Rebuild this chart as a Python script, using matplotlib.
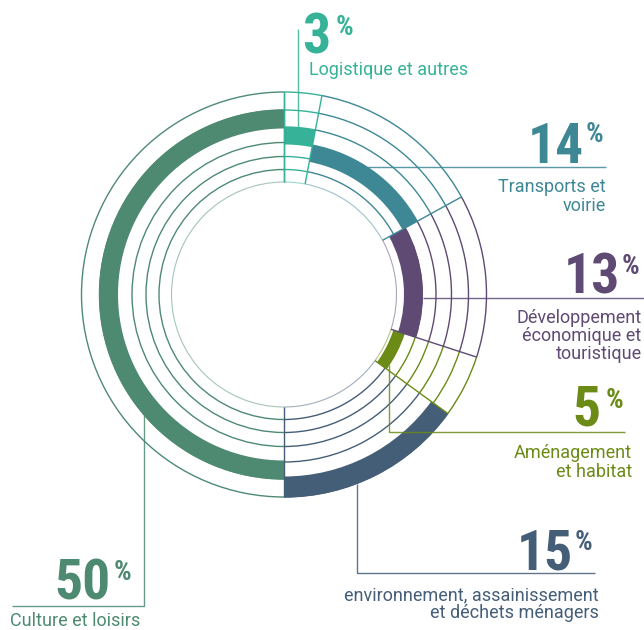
import numpy as np
import matplotlib
matplotlib.use("Agg")
import matplotlib.pyplot as plt
from matplotlib.patches import Wedge, Arc
from matplotlib import font_manager

# ---------------- data ----------------
categories = ["Logistique et autres", "Transports et voirie",
              "Développement économique et touristique", "Aménagement et habitat",
              "environnement, assainissement et déchets ménagers", "Culture et loisirs"]
values = [3, 14, 13, 5, 15, 50]
value_labels = ["3", "14", "13", "5", "15", "50"]
label_lines = [["Logistique et autres"],
               ["Transports et", "voirie"],
               ["Développement", "économique et", "touristique"],
               ["Aménagement", "et habitat"],
               ["environnement, assainissement", "et déchets ménagers"],
               ["Culture et loisirs"]]
colors = ["#35B298", "#3E8896", "#5E4A72", "#6B8A16", "#455E78", "#4E8A72"]

# ---------------- layout ----------------
W, H = 644, 630
CX, CY = 284, 294.5
RING_R = [112.5, 125, 138, 152, 167.5, 184.5, 202.5]
BANDS = [(150, 167.5), (135, 152), (120, 139), (115, 127), (182, 203), (166, 185)]
LEADERS = [
    ("vtop", 298, [(298, 29)]),
    ("hright", 166.7, [(606, 166.7)]),
    ("hright", 297.7, [(644, 297.7)]),
    ("vbot", 389.5, [(389.5, 432.4), (625, 432.4)]),
    ("vbot", 356.6, [(356.6, 573.2), (595, 573.2)]),
    ("vbot", 144, [(144, 605.7), (11.7, 605.7)]),
]
NUM_POS = [(330, 54), (584, 163), (620, 293), (601, 426), (573, 569), (111, 599)]
PCT_POS = [(336, 35), (586, 142), (622, 274), (606, 408), (575, 550), (114, 580)]
DESC = [("left", 309, [75]), ("right", 606, [192, 211]), ("right", 641.5, [323, 341, 359]),
        ("right", 632, [458, 477]), ("right", 599, [600, 618]), ("left", 10, [626])]


def pick_font(cands):
    for c in cands:
        try:
            font_manager.findfont(font_manager.FontProperties(family=c), fallback_to_default=False)
            return c
        except Exception:
            pass
    return "DejaVu Sans"


num_font = pick_font(["Liberation Sans Narrow", "Roboto Condensed", "DejaVu Sans"])
txt_font = pick_font(["Roboto", "Lato", "DejaVu Sans"])

fig = plt.figure(figsize=(W / 100, H / 100), dpi=100)
ax = fig.add_axes([0, 0, 1, 1])
ax.set_xlim(0, W)
ax.set_ylim(H, 0)
ax.axis("off")

total = float(sum(values))
cum = np.concatenate([[0], np.cumsum(values)]) / total * 360.0
starts = cum[:-1] - 90
ends = cum[1:] - 90

# ring lines per sector
for i in range(len(values)):
    for k, r in enumerate(RING_R):
        if k == 0:
            ax.add_patch(Arc((CX, CY), 2 * r, 2 * r, theta1=starts[i], theta2=ends[i],
                             color=colors[i], lw=0.8, alpha=0.5))
        else:
            ax.add_patch(Arc((CX, CY), 2 * r, 2 * r, theta1=starts[i], theta2=ends[i],
                             color=colors[i], lw=1.0))


def radial(theta, col):
    t = np.deg2rad(theta)
    ax.plot([CX + RING_R[0] * np.cos(t), CX + RING_R[-1] * np.cos(t)],
            [CY + RING_R[0] * np.sin(t), CY + RING_R[-1] * np.sin(t)],
            color=col, lw=1.0, solid_capstyle="butt")


for i in range(len(values)):
    radial(ends[i], colors[i])
radial(starts[0], colors[0])

# bands
for i in range(len(values)):
    rin, rout = BANDS[i]
    ax.add_patch(Wedge((CX, CY), rout, starts[i], ends[i], width=rout - rin,
                       facecolor=colors[i], edgecolor="none"))

# leaders
for i, (kind, fixed, pts) in enumerate(LEADERS):
    rout = BANDS[i][1]
    if kind == "vtop":
        x0 = fixed
        y0 = CY - np.sqrt(rout ** 2 - (x0 - CX) ** 2)
    elif kind == "vbot":
        x0 = fixed
        y0 = CY + np.sqrt(rout ** 2 - (x0 - CX) ** 2)
    else:
        y0 = fixed
        x0 = CX + np.sqrt(rout ** 2 - (y0 - CY) ** 2)
    xs = [x0] + [p[0] for p in pts]
    ys = [y0] + [p[1] for p in pts]
    ax.plot(xs, ys, color=colors[i], lw=1.0, alpha=0.85, solid_capstyle="butt")

# numbers and labels
for i in range(len(values)):
    nx, ny = NUM_POS[i]
    ax.text(nx, ny, value_labels[i], ha="right", va="baseline", fontsize=40,
            fontweight="bold", family=num_font, color=colors[i])
    px, py = PCT_POS[i]
    ax.text(px, py, "%", ha="left", va="baseline", fontsize=20,
            fontweight="bold", family=num_font, color=colors[i])
    ha, dx, bls = DESC[i]
    for line, bl in zip(label_lines[i], bls):
        ax.text(dx, bl, line, ha=ha, va="baseline", fontsize=13,
                family=txt_font, color=colors[i])

fig.savefig("out.png", dpi=100)
